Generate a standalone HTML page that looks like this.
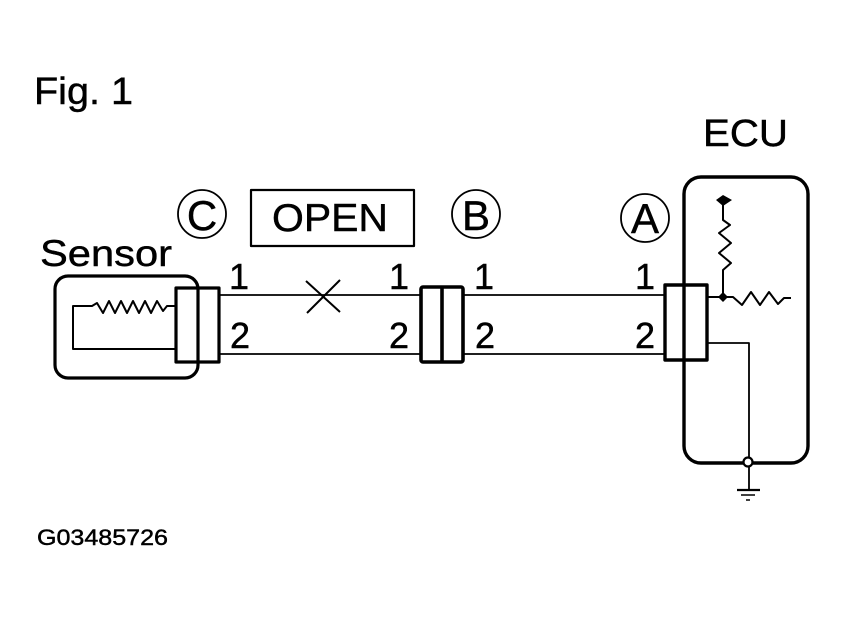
<!DOCTYPE html>
<html><head><meta charset="utf-8"><style>
html,body{margin:0;padding:0;background:#fff}
svg{display:block}
text{font-family:"Liberation Sans",sans-serif;fill:#000;stroke:#000;stroke-width:.45}
</style></head><body>
<svg width="848" height="621" viewBox="0 0 848 621" xmlns="http://www.w3.org/2000/svg">
<g fill="none" stroke="#000" stroke-linejoin="round">
<!-- wires -->
<path d="M220 295H420M220 354H420M463 295H664M463 354H664" stroke-width="1.8"/>
<path d="M306 281L340 312M340 280L307 313" stroke-width="2"/>
<!-- OPEN box -->
<rect x="251" y="190" width="163" height="56" stroke-width="2.2"/>
<!-- circles -->
<circle cx="202" cy="214" r="24" stroke-width="1.8"/>
<circle cx="476" cy="214" r="24" stroke-width="1.8"/>
<circle cx="645" cy="218" r="24" stroke-width="1.8"/>
<!-- sensor -->
<rect x="55" y="276" width="143" height="102" rx="13" stroke-width="3.2"/>
<path d="M175 306H167L163 311L157 301L151 313L145 301L139 313L133 301L127 313L121 301L115 313L109 301L103 313L97 303L92 306H73V349H175" stroke-width="2"/>
<rect x="176" y="288" width="43" height="74" stroke-width="3.2"/>
<!-- B connector -->
<rect x="421" y="287" width="42" height="75" rx="2" stroke-width="3.6"/>
<path d="M442 287V362" stroke-width="3.6"/>
<!-- ECU -->
<rect x="684" y="177" width="124" height="286" rx="17" stroke-width="3.4"/>
<rect x="665" y="285" width="42" height="75" stroke-width="3.4"/>
<path d="M707 297H723M723 202V220L730 225L719 233L731 243L719 253L731 263L723 270V297" stroke-width="2"/>
<path d="M723 297H733L742 305L751 292L760 305L769 292L778 304L784 298H791" stroke-width="2"/>
<path d="M707 343H749V459M749 465V490" stroke-width="1.8"/>
<circle cx="748" cy="462" r="4.5" fill="#fff" stroke-width="2.2"/>
<path d="M737 490H760" stroke-width="2.2"/>
<path d="M741 495H755M746 500H750" stroke-width="1.5"/>
</g>
<path d="M716 200L723 195L732 200L723 206Z" fill="#000"/>
<path d="M718 297L723 292L728 297L723 302Z" fill="#000"/>
<text x="34" y="104" font-size="38" textLength="99" lengthAdjust="spacingAndGlyphs">Fig. 1</text>
<text x="703" y="146" font-size="38" textLength="85" lengthAdjust="spacingAndGlyphs">ECU</text>
<text x="40" y="266" font-size="37" textLength="132" lengthAdjust="spacingAndGlyphs">Sensor</text>
<text x="272" y="231" font-size="39" textLength="116" lengthAdjust="spacingAndGlyphs">OPEN</text>
<text x="202" y="230" font-size="42" text-anchor="middle">C</text>
<text x="476" y="230" font-size="42" text-anchor="middle">B</text>
<text x="645" y="233" font-size="42" text-anchor="middle">A</text>
<g font-size="36">
<text x="229" y="289">1</text><text x="230" y="348">2</text>
<text x="389" y="289">1</text><text x="389" y="348">2</text>
<text x="474" y="289">1</text><text x="475" y="348">2</text>
<text x="635" y="289">1</text><text x="635" y="348">2</text>
</g>
<text x="37" y="545" font-size="22.5" textLength="131" lengthAdjust="spacingAndGlyphs">G03485726</text>
</svg>
</body></html>
